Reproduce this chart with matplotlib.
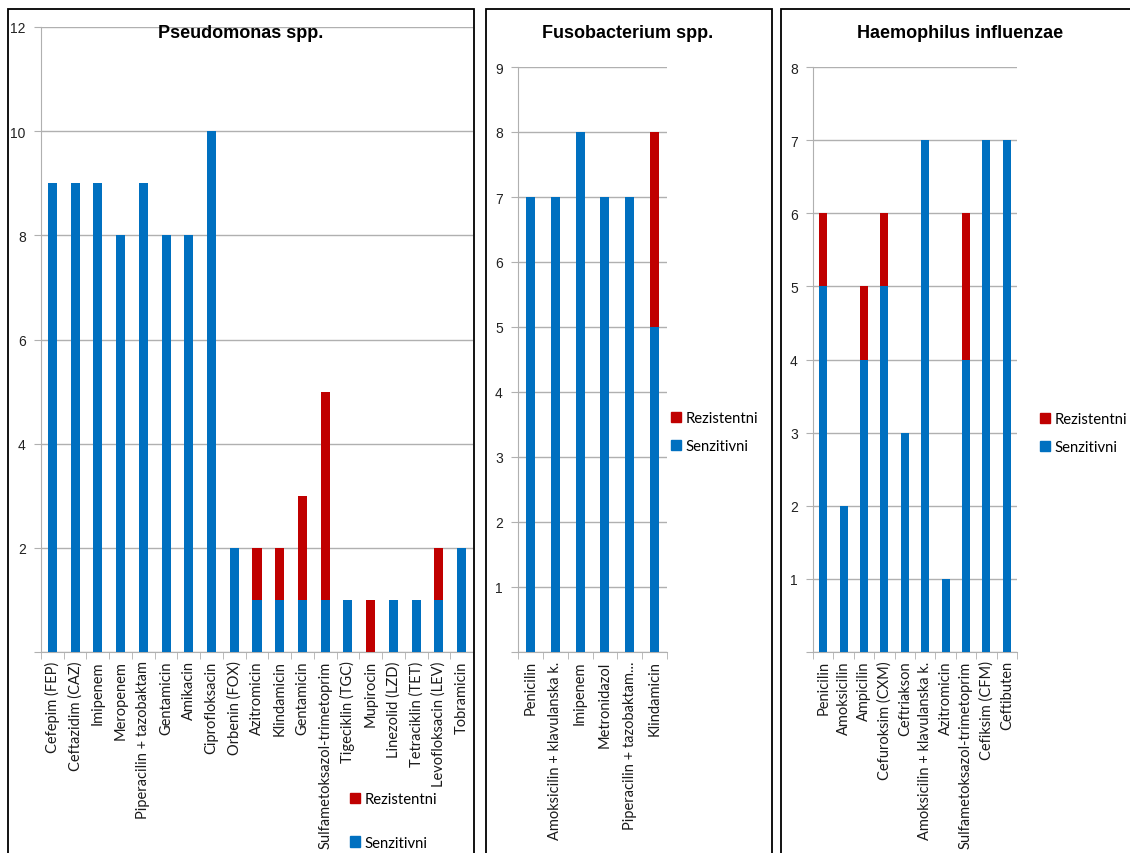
import matplotlib
matplotlib.use('Agg')
import matplotlib.pyplot as plt
from matplotlib.patches import Rectangle, Patch
import numpy as np

# podaci po bakteriji
pseudo_lijekovi = ["Cefepim (FEP)", "Ceftazidim (CAZ)", "Imipenem", "Meropenem",
                   "Piperacilin + tazobaktam", "Gentamicin", "Amikacin", "Ciprofloksacin",
                   "Orbenin (FOX)", "Azitromicin", "Klindamicin", "Gentamicin",
                   "Sulfametoksazol-trimetoprim", "Tigeciklin (TGC)", "Mupirocin",
                   "Linezolid (LZD)", "Tetraciklin (TET)", "Levofloksacin (LEV)", "Tobramicin"]
pseudo_senz = [9, 9, 9, 8, 9, 8, 8, 10, 2, 1, 1, 1, 1, 1, 0, 1, 1, 1, 2]
pseudo_rez = [0, 0, 0, 0, 0, 0, 0, 0, 0, 1, 1, 2, 4, 0, 1, 0, 0, 1, 0]

fuso_lijekovi = ["Penicilin", "Amoksicilin + klavulanska k.", "Imipenem", "Metronidazol",
                 "Piperacilin + tazobaktam...", "Klindamicin"]
fuso_senz = [7, 7, 8, 7, 7, 5]
fuso_rez = [0, 0, 0, 0, 0, 3]

haemo_lijekovi = ["Penicilin", "Amoksicilin", "Ampicilin", "Cefuroksim (CXM)", "Ceftriakson",
                  "Amoksicilin + klavulanska k.", "Azitromicin", "Sulfametoksazol-trimetoprim",
                  "Cefiksim (CFM)", "Ceftibuten"]
haemo_senz = [5, 2, 4, 5, 3, 7, 1, 4, 7, 7]
haemo_rez = [1, 0, 1, 1, 0, 0, 0, 2, 0, 0]

PLAVA = '#0070C0'
CRVENA = '#C00000'
SIVA = '#B0B0B0'

W, H = 1130, 854
fig = plt.figure(figsize=(W / 100, H / 100), dpi=100)


def px(x0, y0, x1, y1):
    # pikseli -> koordinate figure
    return [x0 / W, 1 - y1 / H, (x1 - x0) / W, (y1 - y0) / H]


def nacrtaj(rect, lijekovi, senz, rez, ymax, sirina):
    ax = fig.add_axes(rect)
    x = np.arange(len(lijekovi))
    ax.bar(x, senz, width=sirina, color=PLAVA, zorder=3)
    ax.bar(x, rez, width=sirina, bottom=senz, color=CRVENA, zorder=3)
    ax.set_xlim(-0.5, len(lijekovi) - 0.5)
    ax.set_ylim(0, ymax)
    ax.set_yticks(range(0, ymax + 1, 2 if ymax > 10 else 1))
    ax.set_yticklabels([str(v) if v else '' for v in ax.get_yticks().astype(int)],
                       fontsize=10, family='Liberation Sans', color='#222222')
    ax.set_xticks(x)
    ax.set_xticklabels(lijekovi, rotation=90, fontsize=10.5, family='Lato', color='#1a1a1a')
    ax.tick_params(axis='x', length=0, pad=6)
    ax.set_xticks(np.arange(-0.5, len(lijekovi)), minor=True)
    ax.tick_params(axis='x', which='minor', length=5, color=SIVA)
    ax.tick_params(axis='y', length=5, color=SIVA, pad=6)
    ax.grid(axis='y', color=SIVA, linewidth=1, zorder=0)
    for s in ['top', 'right']:
        ax.spines[s].set_visible(False)
    for s in ['left', 'bottom']:
        ax.spines[s].set_color(SIVA)
    ax.set_facecolor('none')
    return ax


ax1 = nacrtaj(px(41, 28, 473, 653), pseudo_lijekovi, pseudo_senz, pseudo_rez, 12, 0.4)
ax2 = nacrtaj(px(518, 68, 667, 653), fuso_lijekovi, fuso_senz, fuso_rez, 9, 0.36)
ax3 = nacrtaj(px(813, 68, 1017, 653), haemo_lijekovi, haemo_senz, haemo_rez, 8, 0.4)

# okviri panela
for x0, x1 in [(8, 474), (486, 772), (781, 1140)]:
    fig.patches.append(Rectangle((x0 / W, -0.05), (x1 - x0) / W, 1.05 - 10 / H,
                                 transform=fig.transFigure, fill=False,
                                 edgecolor='black', linewidth=1.3))

# naslovi
for xc, naslov in [(241, "Pseudomonas spp."), (628, "Fusobacterium spp."), (960, "Haemophilus influenzae")]:
    fig.text(xc / W, 1 - 33 / H, naslov, ha='center', va='center', fontsize=13,
             fontweight='bold', family='Liberation Sans')

rucke = [Patch(color=CRVENA, label='Rezistentni'), Patch(color=PLAVA, label='Senzitivni')]
for (lx, ly), razmak in [((350, 793), 2.0), ((671, 412), 0.95), ((1040, 413), 0.95)]:
    fig.legend(handles=rucke, loc='upper left', bbox_to_anchor=(lx / W, 1 - ly / H),
               frameon=False, prop={'family': 'Lato', 'size': 10.7},
               handlelength=0.7, handleheight=0.7, handletextpad=0.3,
               labelspacing=razmak, borderpad=0, borderaxespad=0)

fig.savefig('out.png', dpi=100)
